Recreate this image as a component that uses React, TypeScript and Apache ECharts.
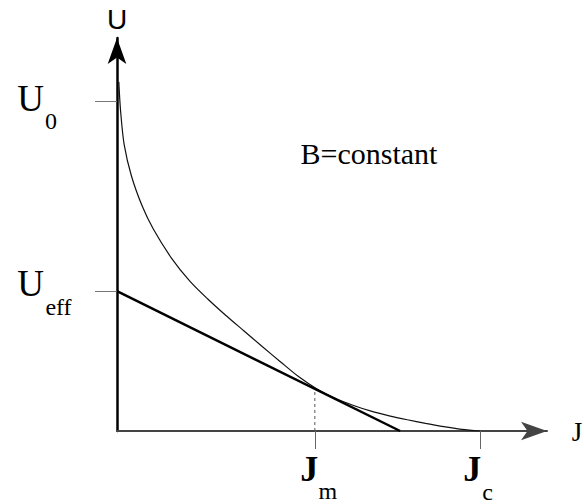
import React, { useEffect, useRef } from "react";
import * as echarts from "echarts";

// Curve U(J) at constant B (arbitrary units: Jc = 1, U0 = 1)
const curveJ = [0.005, 0.01, 0.02, 0.04, 0.07, 0.10, 0.15, 0.20, 0.25, 0.30, 0.35, 0.40, 0.45, 0.50, 0.55, 0.60, 0.65, 0.70, 0.75, 0.80, 0.85, 0.90, 0.95, 1.00];
const curveU = [1.058, 0.968, 0.866, 0.772, 0.680, 0.612, 0.524, 0.455, 0.400, 0.350, 0.303, 0.256, 0.210, 0.165, 0.128, 0.100, 0.078, 0.060, 0.046, 0.034, 0.023, 0.013, 0.005, 0];

// Tangent line (effective barrier)
const tangentJ = [0, 0.78];
const tangentU = [0.424, 0];

// Characteristic values
const U0 = 1.0;
const Ueff = 0.424;
const Jm = 0.545;
const Jc = 1.0;
const UatJm = 0.13;

// Axis extents
const xMax = 1.1846;
const yMax = 1.1909;

const xTicks = [Jm, Jc];
const yTicks = [U0, Ueff];
const xTickMain = ["J", "J"];
const xTickSub = ["m", "c"];
const yTickMain = ["U", "U"];
const yTickSub = ["0", "eff"];
const xName = "J";
const yName = "U";
const annotation = "B=constant";
const annotationAt = [0.5014, 0.841];

const serif = "Liberation Serif";

export default function App() {
  const ref = useRef<HTMLDivElement>(null);
  useEffect(() => {
    if (!ref.current) return;
    const chart = echarts.init(ref.current, null, { renderer: "svg" });
    const curve = curveJ.map((j, i) => [j, curveU[i]]);
    const tangent = tangentJ.map((j, i) => [j, tangentU[i]]);

    const mainOffsetsY = [[-86.5, -2], [-86.5, -7.5]];
    const subOffsetsY = [[-66, 20], [-58.5, 16]];
    const mainOffsetsX = [[-5.6, 38], [-7.8, 38]];
    const subOffsetsX = [[13, 60], [7.5, 61]];

    const base = { color: "#000", fontFamily: serif, opacity: 1 };
    const labelData: any[] = [];
    yTicks.forEach((v, i) => {
      labelData.push({
        value: [0, v],
        label: { ...base, formatter: yTickMain[i], offset: mainOffsetsY[i], fontSize: 37 },
      });
      labelData.push({
        value: [0, v],
        label: { ...base, formatter: yTickSub[i], offset: subOffsetsY[i], fontSize: 24 },
      });
    });
    xTicks.forEach((v, i) => {
      labelData.push({
        value: [v, 0],
        label: { ...base, formatter: xTickMain[i], offset: mainOffsetsX[i], fontSize: 36, fontWeight: "bold" },
      });
      labelData.push({
        value: [v, 0],
        label: { ...base, formatter: xTickSub[i], offset: subOffsetsX[i], fontSize: 24 },
      });
    });
    // x-axis name at the arrow tip
    labelData.push({
      value: [xMax, 0],
      label: { ...base, fontFamily: "Times New Roman", formatter: xName, offset: [30, 1], fontSize: 27 },
    });
    // annotation
    labelData.push({
      value: annotationAt,
      label: {
        ...base,
        formatter: "{b|" + annotation + "}",
        offset: [70, 0],
        rich: { b: { fontFamily: serif, fontSize: 30, color: "#000" } },
      },
    });

    chart.setOption({
      animation: false,
      backgroundColor: "#fff",
      grid: { left: 117, right: 37, top: 38, bottom: 73 },
      xAxis: {
        type: "value",
        min: 0,
        max: xMax,
        splitLine: { show: false },
        axisLine: {
          show: true,
          symbol: ["none", "arrow"],
          symbolSize: [14, 26],
          lineStyle: { color: "#444", width: 2 },
        },
        axisTick: { show: true, customValues: xTicks, length: 18, lineStyle: { color: "#666", width: 1 } },
        axisLabel: { show: false },
      },
      yAxis: {
        type: "value",
        min: 0,
        max: yMax,
        splitLine: { show: false },
        name: yName,
        nameLocation: "end",
        nameGap: 19,
        nameTextStyle: { fontFamily: "Liberation Sans", fontSize: 28, color: "#000", align: "center", verticalAlign: "middle" },
        axisLine: {
          show: true,
          symbol: ["none", "arrow"],
          symbolSize: [14, 26],
          lineStyle: { color: "#000", width: 2.5 },
        },
        axisTick: { show: true, customValues: yTicks, length: 22, lineStyle: { color: "#777", width: 1 } },
        axisLabel: { show: false },
      },
      series: [
        {
          type: "line",
          data: curve,
          smooth: 0.3,
          showSymbol: false,
          lineStyle: { color: "#111", width: 1.2 },
          z: 3,
        },
        {
          type: "line",
          data: tangent,
          showSymbol: false,
          lineStyle: { color: "#000", width: 2.5 },
          z: 4,
        },
        {
          type: "line",
          data: [[Jm, 0], [Jm, UatJm]],
          showSymbol: false,
          lineStyle: { color: "#555", width: 1, type: [3, 3] },
          z: 2,
        },
        {
          type: "scatter",
          data: labelData,
          symbolSize: 1,
          silent: true,
          itemStyle: { color: "rgba(0,0,0,0)", opacity: 1 },
          label: { show: true, position: "inside", color: "#000", align: "center", verticalAlign: "middle" },
          clip: false,
          z: 5,
        },
      ],
    });
    return () => chart.dispose();
  }, []);
  return <div ref={ref} style={{ position: "fixed", left: 0, top: 0, width: 584, height: 504 }} />;
}
